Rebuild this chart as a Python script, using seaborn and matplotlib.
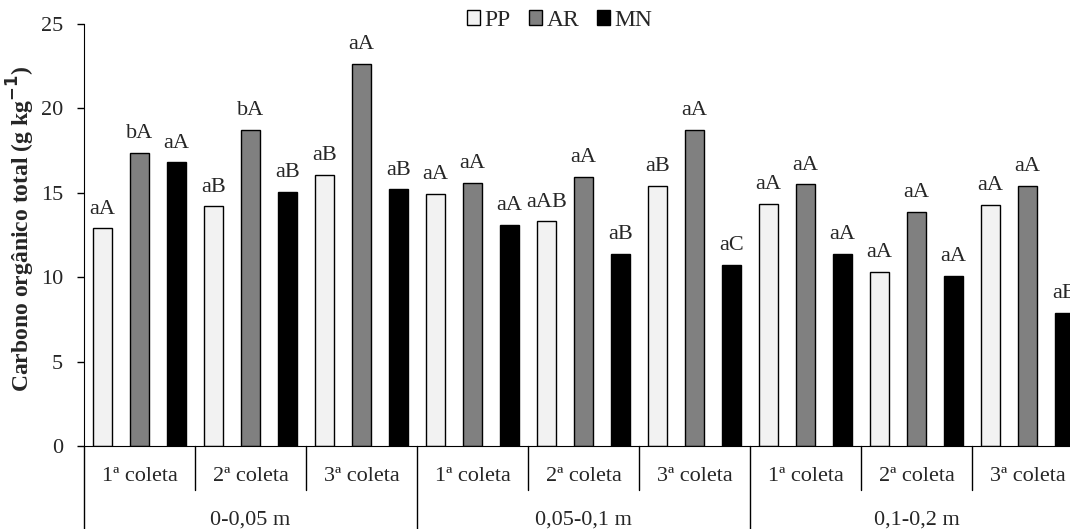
import matplotlib
matplotlib.use("Agg")
import matplotlib.pyplot as plt
import matplotlib.transforms as mtransforms
import numpy as np
import pandas as pd
import seaborn as sns

# Data
depths = ["0-0,05 m", "0,05-0,1 m", "0,1-0,2 m"]
coletas = ["1ª coleta", "2ª coleta", "3ª coleta"]
systems = ["PP", "AR", "MN"]

pp = [12.9, 14.2, 16.05, 14.95, 13.3, 15.4, 14.35, 10.3, 14.3]
ar = [17.35, 18.75, 22.65, 15.6, 15.95, 18.75, 15.5, 13.85, 15.4]
mn = [16.8, 15.05, 15.2, 13.1, 11.4, 10.75, 11.4, 10.1, 7.9]

pp_lab = ["aA", "aB", "aB", "aA", "aAB", "aB", "aA", "aA", "aA"]
ar_lab = ["bA", "bA", "aA", "aA", "aA", "aA", "aA", "aA", "aA"]
mn_lab = ["aA", "aB", "aB", "aA", "aB", "aC", "aA", "aA", "aB"]

colors = {"PP": "#f2f2f2", "AR": "#808080", "MN": "#000000"}

# long format dataframe, one unique category per depth/coleta
cats = [d + " | " + c for d in depths for c in coletas]
df = pd.DataFrame({
    "pos": cats * 3,
    "valor": pp + ar + mn,
    "sistema": ["PP"] * 9 + ["AR"] * 9 + ["MN"] * 9,
})

sns.set_style("ticks")
plt.rcParams["font.family"] = ["Liberation Serif", "DejaVu Serif"]
plt.rcParams["axes.edgecolor"] = "black"

fig = plt.figure(figsize=(10.7, 5.29), dpi=100)
ax = fig.add_axes([84 / 1070, 83 / 529, 999 / 1070, 422 / 529])

sns.barplot(data=df, x="pos", y="valor", hue="sistema", order=cats,
            hue_order=systems, palette=colors, edgecolor="black",
            linewidth=1, width=1, gap=0.49, ax=ax)

ax.set_xlim(-0.5, 8.5)
ax.set_ylim(0, 25)
ax.set_yticks(np.arange(0, 26, 5))
ax.tick_params(axis="y", labelsize=16, length=5, width=1, color="black",
               pad=10)
sns.despine(ax=ax)

# letters above bars
for cont, labs in zip(ax.containers, [pp_lab, ar_lab, mn_lab]):
    ax.bar_label(cont, labels=labs, padding=7, fontsize=16)

# two level x axis
ax.set_xticks(range(9))
ax.set_xticklabels(coletas * 3, fontsize=16)
ax.tick_params(axis="x", length=0, pad=15)
ax.set_xlabel("")

trans = mtransforms.blended_transform_factory(ax.transData, ax.transAxes)
for k in range(9):
    x = k - 0.5
    bottom = -0.25 if k % 3 == 0 else -0.104
    ax.plot([x, x], [0, bottom], transform=trans, clip_on=False,
            color="black", lw=1)
for i, d in enumerate(depths):
    ax.text(3 * i + 1, -0.176, d, transform=trans, ha="center",
            va="center", fontsize=16)

ax.set_ylabel("Carbono orgânico total (g kg$^{\\mathbf{-1}}$)",
              fontsize=17, fontweight="bold")
ax.yaxis.set_label_coords(-0.047, 0.515)

handles, labels = ax.get_legend_handles_labels()
ax.legend(handles, labels, loc="center", bbox_to_anchor=(0.523, 0.962),
          bbox_transform=fig.transFigure, ncol=3, frameon=False,
          handlelength=0.55, handleheight=0.6, handletextpad=0.2,
          columnspacing=0.75, fontsize=17)

fig.savefig("out.png", dpi=100)
